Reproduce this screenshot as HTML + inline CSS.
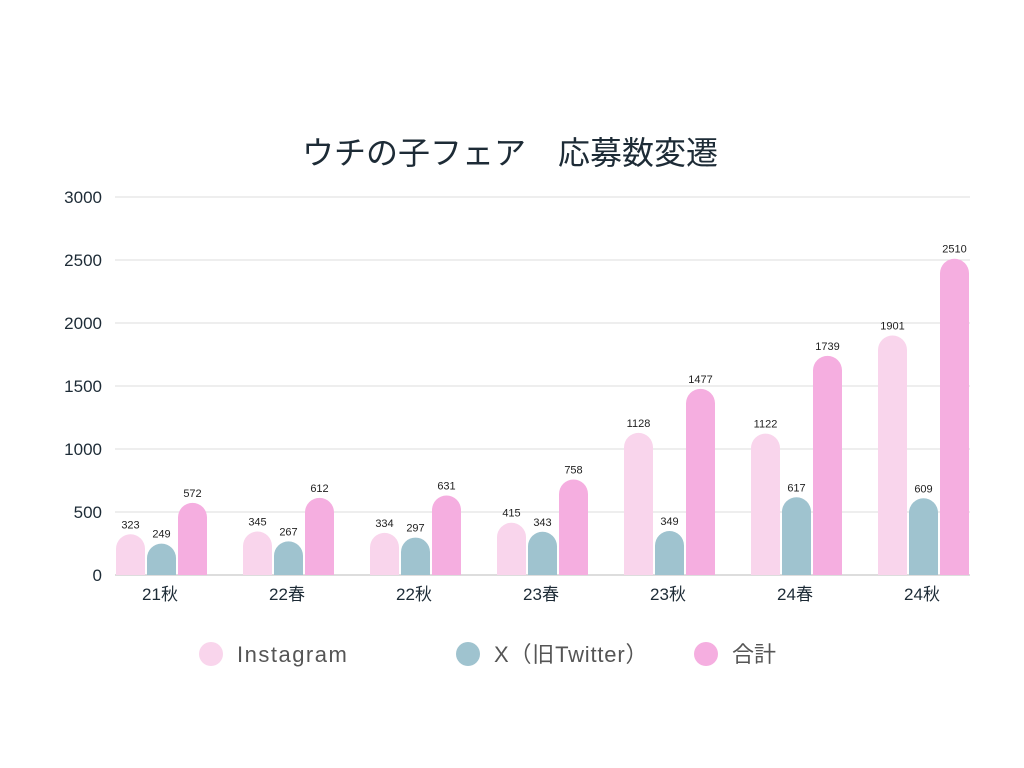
<!DOCTYPE html>
<html><head><meta charset="utf-8">
<style>
html,body{margin:0;padding:0;background:#fff;}
svg{display:block;font-family:"Liberation Sans","Noto Sans CJK JP",sans-serif;}
</style></head>
<body>
<svg id="chart" width="1024" height="768" viewBox="0 0 1024 768">
<text x="510" y="164" text-anchor="middle" font-size="32" fill="#1d2b36">ウチの子フェア　応募数変遷</text>
<g id="grid"></g>
<g id="bars"></g>
<g id="legend">
  <circle cx="211" cy="654" r="12" fill="#f9d5ec"/>
  <text x="237" y="662" font-size="22" letter-spacing="1.5" fill="#555">Instagram</text>
  <circle cx="468" cy="654" r="12" fill="#9fc3cf"/>
  <text x="494" y="662" font-size="22" letter-spacing="0.8" fill="#555">X（旧Twitter）</text>
  <circle cx="706" cy="654" r="12" fill="#f5aee0"/>
  <text x="732" y="662" font-size="22" fill="#555">合計</text>
</g>
</svg>
<script>
const categories = ["21秋","22春","22秋","23春","23秋","24春","24秋"];
const instagram = [323,345,334,415,1128,1122,1901];
const xTwitter = [249,267,297,343,349,617,609];
const total = [572,612,631,758,1477,1739,2510];
const yTicks = [0,500,1000,1500,2000,2500,3000];

const NS = "http://www.w3.org/2000/svg";
const y0 = 575, yTop = 197, yMax = 3000;
function yScale(v){ return y0 - (v / yMax) * (y0 - yTop); }
function groupX(i){ return 116 + i * 127; }
const bw = 29, step = 31;

const grid = document.getElementById('grid');
yTicks.forEach(t => {
  const y = yScale(t);
  const l = document.createElementNS(NS,'line');
  l.setAttribute('x1',115); l.setAttribute('x2',970);
  l.setAttribute('y1',y); l.setAttribute('y2',y);
  l.setAttribute('stroke', t === 0 ? '#bbb' : '#ddd');
  l.setAttribute('stroke-width',1);
  
  
  grid.appendChild(l);
  const tx = document.createElementNS(NS,'text');
  tx.setAttribute('x',102); tx.setAttribute('y',y+6);
  tx.setAttribute('text-anchor','end');
  tx.setAttribute('font-size','17'); tx.setAttribute('fill','#1d2b36');
  tx.textContent = t;
  
  
  grid.appendChild(tx);
});

const bars = document.getElementById('bars');
const series = [instagram, xTwitter, total];
const colors = ['#f9d5ec','#9fc3cf','#f5aee0'];
const names = ['instagram','x','total'];
function barPath(x, y, w, h){
  const r = Math.min(w/2, h);
  return `M${x},${y0} L${x},${y+r} A${r},${r} 0 0 1 ${x+w},${y+r} L${x+w},${y0} Z`;
}
categories.forEach((c, i) => {
  const gx = groupX(i);
  series.forEach((s, k) => {
    const x = gx + k * step;
    const y = yScale(s[i]);
    const p = document.createElementNS(NS,'path');
    p.setAttribute('d', barPath(x, y, bw, y0 - y));
    p.setAttribute('fill', colors[k]);
    
    
    bars.appendChild(p);
    const t = document.createElementNS(NS,'text');
    t.setAttribute('x', x + bw/2); t.setAttribute('y', y - 6);
    t.setAttribute('text-anchor','middle');
    t.setAttribute('font-size','11'); t.setAttribute('fill','#222');
    t.textContent = s[i];
    
    
    bars.appendChild(t);
  });
  const cl = document.createElementNS(NS,'text');
  cl.setAttribute('x', gx + 44); cl.setAttribute('y', 600);
  cl.setAttribute('text-anchor','middle');
  cl.setAttribute('font-size','17'); cl.setAttribute('fill','#1d2b36');
  cl.textContent = c;
  
  
  bars.appendChild(cl);
});
</script>
</body></html>
